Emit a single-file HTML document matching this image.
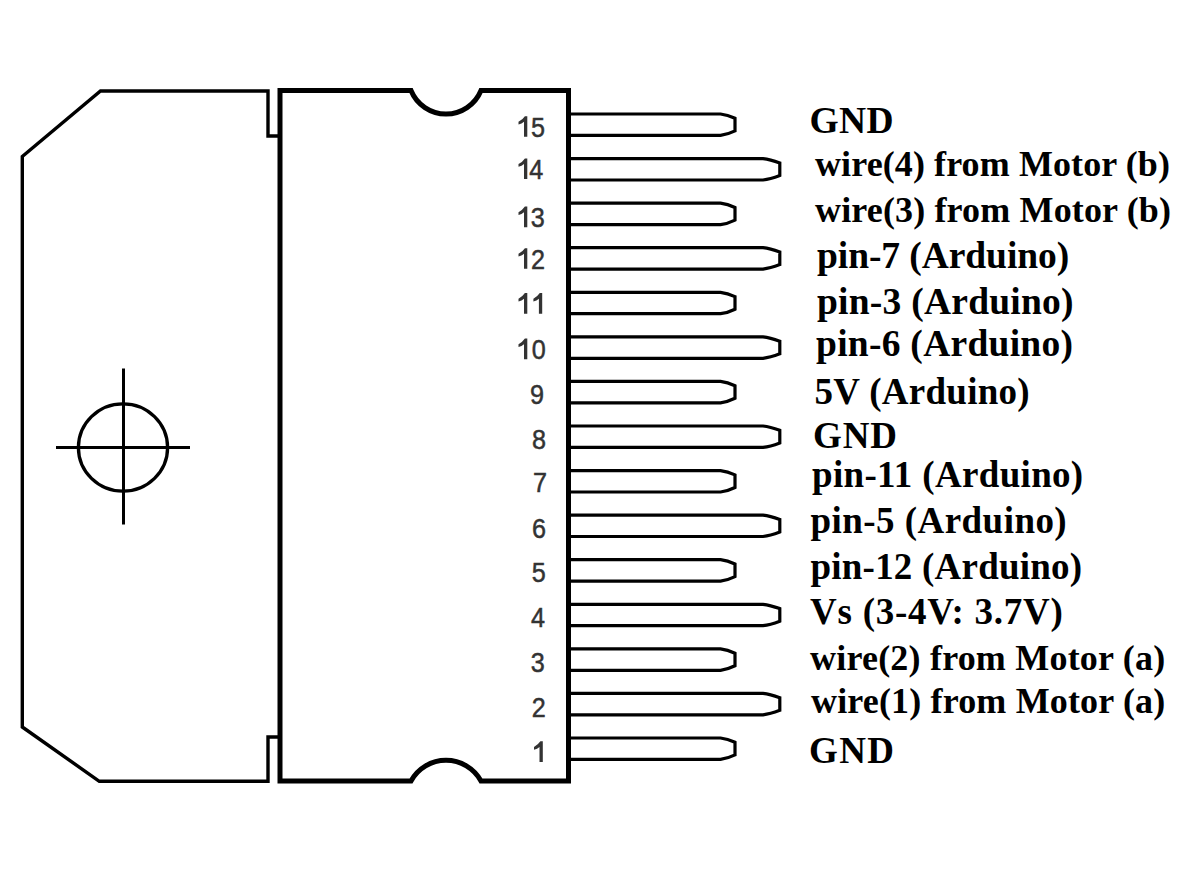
<!DOCTYPE html>
<html><head><meta charset="utf-8"><style>
html,body{margin:0;padding:0;background:#fff;}
body{width:1194px;height:895px;overflow:hidden;}
svg{display:block;}
.n{font-family:"Liberation Sans",sans-serif;font-size:28px;fill:#333;stroke:#333;stroke-width:0.5px;text-anchor:end;}
.one{fill:#333;}
.l{font-family:"Liberation Serif",serif;font-weight:bold;fill:#000;}
</style></head><body>
<svg width="1194" height="895" viewBox="0 0 1194 895">
<polyline points="278,136 268,136 268,91 100.5,91 22.3,156.5 22.3,727 99.3,781.3 268,781.3 268,737 278,737" fill="none" stroke="#000" stroke-width="3.4"/>
<path d="M280,90.5 H411 A37.8,37.8 0 0 0 481,90.5 H568.5 V781 H481 A39.9,39.9 0 0 0 411,781 H280 Z" fill="none" stroke="#000" stroke-width="5"/>
<ellipse cx="123" cy="447.5" rx="44.6" ry="43.6" fill="none" stroke="#000" stroke-width="3.3"/>
<path d="M123.5,368.5 V524.5 M56,447.5 H190" stroke="#000" stroke-width="3"/>
<path d="M571,738.0 H720.5 Q727.5,738.8 735,742.3 V754.9 Q727.5,758.6 720.5,759.4 H571" fill="none" stroke="#000" stroke-width="3.2"/>
<path class="one" d="M542.80,741.30 V761.90 H539.50 V746.90 Q537.30,748.90 534.00,749.70 V746.90 Q538.00,744.90 540.40,741.30 Z"/>
<path d="M571,693.4 H763 Q770,694.2 779.8,697.7 V710.3 Q770,714.0 763,714.8 H571" fill="none" stroke="#000" stroke-width="3.2"/>
<text transform="translate(545.70,717.00) scale(0.9,1)" class="n">2</text>
<path d="M571,648.9 H720.5 Q727.5,649.7 735,653.2 V665.8 Q727.5,669.5 720.5,670.3 H571" fill="none" stroke="#000" stroke-width="3.2"/>
<text transform="translate(544.70,672.00) scale(0.9,1)" class="n">3</text>
<path d="M571,604.3 H763 Q770,605.1 779.8,608.6 V621.2 Q770,624.9 763,625.7 H571" fill="none" stroke="#000" stroke-width="3.2"/>
<text transform="translate(544.90,627.40) scale(0.9,1)" class="n">4</text>
<path d="M571,559.7 H720.5 Q727.5,560.5 735,564.0 V576.6 Q727.5,580.3 720.5,581.1 H571" fill="none" stroke="#000" stroke-width="3.2"/>
<text transform="translate(545.70,581.80) scale(0.9,1)" class="n">5</text>
<path d="M571,515.1 H763 Q770,515.9 779.8,519.4 V532.0 Q770,535.8 763,536.5 H571" fill="none" stroke="#000" stroke-width="3.2"/>
<text transform="translate(546.10,538.40) scale(0.9,1)" class="n">6</text>
<path d="M571,470.6 H720.5 Q727.5,471.4 735,474.9 V487.5 Q727.5,491.2 720.5,492.0 H571" fill="none" stroke="#000" stroke-width="3.2"/>
<text transform="translate(546.90,491.80) scale(0.9,1)" class="n">7</text>
<path d="M571,426.0 H763 Q770,426.8 779.8,430.3 V442.9 Q770,446.6 763,447.4 H571" fill="none" stroke="#000" stroke-width="3.2"/>
<text transform="translate(546.10,449.20) scale(0.9,1)" class="n">8</text>
<path d="M571,381.4 H720.5 Q727.5,382.2 735,385.7 V398.3 Q727.5,402.0 720.5,402.8 H571" fill="none" stroke="#000" stroke-width="3.2"/>
<text transform="translate(544.10,403.80) scale(0.9,1)" class="n">9</text>
<path d="M571,336.9 H763 Q770,337.7 779.8,341.2 V353.8 Q770,357.5 763,358.3 H571" fill="none" stroke="#000" stroke-width="3.2"/>
<path class="one" d="M527.30,338.60 V359.20 H524.00 V344.20 Q521.80,346.20 518.50,347.00 V344.20 Q522.50,342.20 524.90,338.60 Z"/>
<text transform="translate(545.70,358.80) scale(0.9,1)" class="n">0</text>
<path d="M571,292.3 H720.5 Q727.5,293.1 735,296.6 V309.2 Q727.5,312.9 720.5,313.7 H571" fill="none" stroke="#000" stroke-width="3.2"/>
<path class="one" d="M527.30,293.10 V313.70 H524.00 V298.70 Q521.80,300.70 518.50,301.50 V298.70 Q522.50,296.70 524.90,293.10 Z"/>
<path class="one" d="M542.20,293.10 V313.70 H538.90 V298.70 Q536.70,300.70 533.40,301.50 V298.70 Q537.40,296.70 539.80,293.10 Z"/>
<path d="M571,247.7 H763 Q770,248.5 779.8,252.0 V264.6 Q770,268.3 763,269.1 H571" fill="none" stroke="#000" stroke-width="3.2"/>
<path class="one" d="M527.30,248.20 V268.80 H524.00 V253.80 Q521.80,255.80 518.50,256.60 V253.80 Q522.50,251.80 524.90,248.20 Z"/>
<text transform="translate(544.90,269.20) scale(0.9,1)" class="n">2</text>
<path d="M571,203.2 H720.5 Q727.5,204.0 735,207.5 V220.1 Q727.5,223.8 720.5,224.6 H571" fill="none" stroke="#000" stroke-width="3.2"/>
<path class="one" d="M527.30,206.60 V227.20 H524.00 V212.20 Q521.80,214.20 518.50,215.00 V212.20 Q522.50,210.20 524.90,206.60 Z"/>
<text transform="translate(544.70,226.80) scale(0.9,1)" class="n">3</text>
<path d="M571,158.6 H763 Q770,159.4 779.8,162.9 V175.5 Q770,179.2 763,180.0 H571" fill="none" stroke="#000" stroke-width="3.2"/>
<path class="one" d="M527.30,158.40 V179.00 H524.00 V164.00 Q521.80,166.00 518.50,166.80 V164.00 Q522.50,162.00 524.90,158.40 Z"/>
<text transform="translate(543.30,179.00) scale(0.9,1)" class="n">4</text>
<path d="M571,114.0 H720.5 Q727.5,114.8 735,118.3 V130.9 Q727.5,134.6 720.5,135.4 H571" fill="none" stroke="#000" stroke-width="3.2"/>
<path class="one" d="M527.30,116.20 V136.80 H524.00 V121.80 Q521.80,123.80 518.50,124.60 V121.80 Q522.50,119.80 524.90,116.20 Z"/>
<text transform="translate(544.90,137.20) scale(0.9,1)" class="n">5</text>
<text x="809.50" y="132.7" class="l" style="font-size:37.5px" textLength="84.00" lengthAdjust="spacing">GND</text>
<text x="815.00" y="176" class="l" style="font-size:36px" textLength="355.00" lengthAdjust="spacing">wire(4) from Motor (b)</text>
<text x="815.00" y="222" class="l" style="font-size:36px" textLength="356.00" lengthAdjust="spacing">wire(3) from Motor (b)</text>
<text x="817.00" y="268.4" class="l" style="font-size:37.5px" textLength="252.20" lengthAdjust="spacing">pin-7 (Arduino)</text>
<text x="817.00" y="313.6" class="l" style="font-size:37.5px" textLength="256.60" lengthAdjust="spacing">pin-3 (Arduino)</text>
<text x="816.00" y="356.2" class="l" style="font-size:37.5px" textLength="257.00" lengthAdjust="spacing">pin-6 (Arduino)</text>
<text x="814.50" y="404" class="l" style="font-size:37px" textLength="215.20" lengthAdjust="spacing">5V (Arduino)</text>
<text x="813.00" y="448" class="l" style="font-size:37px" textLength="84.00" lengthAdjust="spacing">GND</text>
<text x="812.00" y="486.5" class="l" style="font-size:37px" textLength="271.20" lengthAdjust="spacing">pin-11 (Arduino)</text>
<text x="810.50" y="532.7" class="l" style="font-size:37px" textLength="256.20" lengthAdjust="spacing">pin-5 (Arduino)</text>
<text x="810.50" y="578.5" class="l" style="font-size:37px" textLength="271.60" lengthAdjust="spacing">pin-12 (Arduino)</text>
<text x="810.00" y="624.4" class="l" style="font-size:37px" textLength="252.80" lengthAdjust="spacing">Vs (3-4V: 3.7V)</text>
<text x="810.00" y="669.8" class="l" style="font-size:36px" textLength="355.20" lengthAdjust="spacing">wire(2) from Motor (a)</text>
<text x="811.00" y="712.7" class="l" style="font-size:36px" textLength="354.20" lengthAdjust="spacing">wire(1) from Motor (a)</text>
<text x="809.00" y="762.5" class="l" style="font-size:37px" textLength="85.00" lengthAdjust="spacing">GND</text>
</svg>
</body></html>
